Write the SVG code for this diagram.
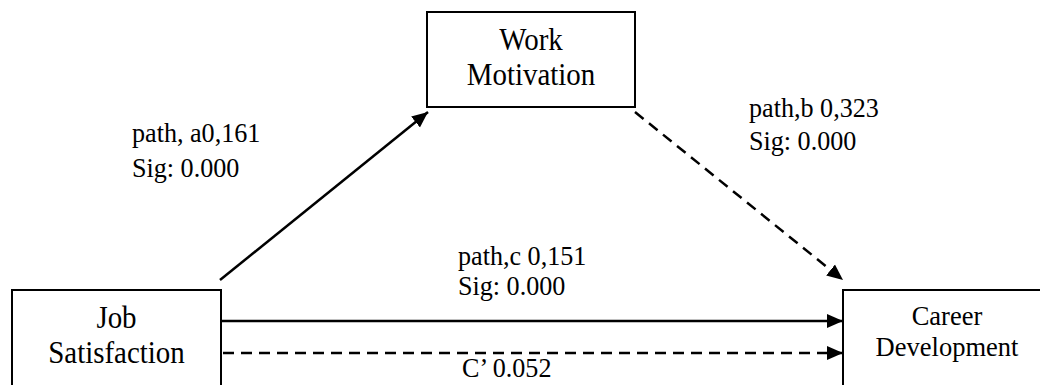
<svg xmlns="http://www.w3.org/2000/svg" width="1040" height="385" viewBox="0 0 1040 385">
<style>
.box{fill:#fff;stroke:#000;stroke-width:2}
.t{font-family:"Liberation Serif","Times New Roman",serif;fill:#000}
.nt{font-size:32.5px;text-anchor:middle}
.cd{font-size:26.5px;text-anchor:middle}
.lb{font-size:27.5px}
.ln{stroke:#000;stroke-width:2.5;fill:none}
.dash{stroke-dasharray:11 7}
</style>
<defs>
<marker id="ah" markerUnits="userSpaceOnUse" markerWidth="16" markerHeight="16" viewBox="0 0 16 16" refX="16" refY="8" orient="auto">
<path d="M0,1 L16,8 L0,15 Z" fill="#000"/>
</marker>
</defs>
<rect width="1040" height="385" fill="#fff"/>
<g id="job-satisfaction">
<rect class="box" x="12" y="290" width="209" height="110"/>
<text class="t nt" transform="translate(116.5,328) scale(0.89,1)">Job</text>
<text class="t nt" transform="translate(116.5,363) scale(0.89,1)">Satisfaction</text>
</g>
<g id="work-motivation">
<rect class="box" x="427" y="12" width="208" height="95"/>
<text class="t nt" transform="translate(531,50) scale(0.89,1)">Work</text>
<text class="t nt" transform="translate(531,85) scale(0.89,1)">Motivation</text>
</g>
<g id="career-development">
<rect class="box" x="843" y="290" width="220" height="110"/>
<text class="t cd" x="947" y="325">Career</text>
<text class="t cd" x="947" y="356">Development</text>
</g>
<g id="connectors">
<line class="ln" x1="220" y1="280" x2="428" y2="112" marker-end="url(#ah)"/>
<line class="ln dash" x1="635" y1="112" x2="843" y2="280" marker-end="url(#ah)"/>
<line class="ln" x1="221" y1="321" x2="843" y2="321" marker-end="url(#ah)"/>
<line class="ln dash" x1="223" y1="353" x2="843" y2="353" marker-end="url(#ah)"/>
</g>
<g id="labels">
<text class="t lb" transform="translate(132,142) scale(0.95,1)">path, a0,161</text>
<text class="t lb" transform="translate(132,177) scale(0.95,1)">Sig: 0.000</text>
<text class="t lb" transform="translate(749,117) scale(0.95,1)">path,b 0,323</text>
<text class="t lb" transform="translate(749,150) scale(0.95,1)">Sig: 0.000</text>
<text class="t lb" transform="translate(458,265) scale(0.95,1)">path,c 0,151</text>
<text class="t lb" transform="translate(458,295) scale(0.95,1)">Sig: 0.000</text>
<text class="t lb" transform="translate(462,377) scale(0.95,1)">C’ 0.052</text>
</g>
</svg>
